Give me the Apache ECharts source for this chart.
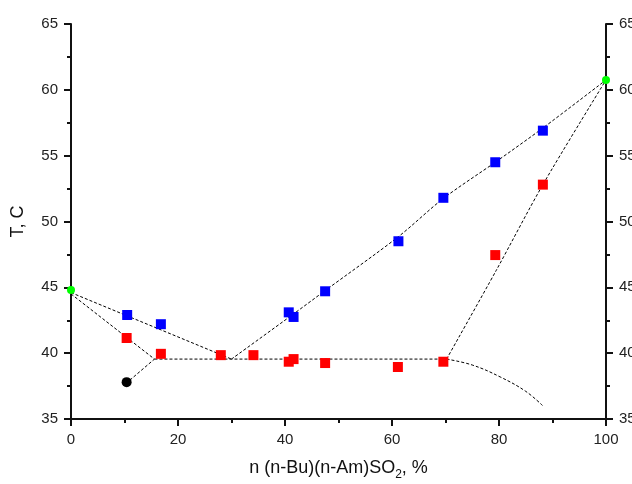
<!DOCTYPE html>
<html lang="en">
<head>
    <meta charset="UTF-8">
    <title>T - n diagram</title>
    <script src="https://cdn.jsdelivr.net/npm/echarts@6/dist/echarts.min.js"></script>
    <style>
        body{
            margin: 0;
            background: #fff;
        }
        #chart{
            width: 632px;
            height: 484px;
        }
    </style>
</head>
<body>
    <div id="chart"></div>
    <script>
        // measured points
        var bluePts = [[10.5, 42.9], [16.8, 42.2], [40.7, 43.1], [41.6, 42.75], [47.5, 44.7],
                       [61.2, 48.5], [69.6, 51.8], [79.3, 54.5], [88.2, 56.9]];
        var redPts = [[10.4, 41.15], [16.8, 39.95], [28.0, 39.85], [34.1, 39.85], [40.7, 39.35],
                      [41.6, 39.55], [47.5, 39.25], [61.1, 38.95], [69.6, 39.35], [79.3, 47.45], [88.2, 52.8]];
        var greenPts = [[0, 44.8], [100, 60.75]];
        var blackPts = [[10.4, 37.8]];

        // dashed guide lines
        var upperLeft = [[0, 44.6], [30, 39.55]];
        var lowerLeft = [[0, 44.5], [15.6, 39.55]];
        var eutectic = [[15.6, 39.55], [70.2, 39.55]];
        var blackLine = [[11, 37.95], [15.6, 39.55]];
        var upperRight = [[30, 39.55], [41.5, 42.95], [47.5, 44.75], [61.2, 48.85], [69.6, 51.75],
                          [79.3, 54.5], [88.2, 57.1], [100, 60.75]];
        var lowerRight = [[70.2, 39.55], [79.5, 46.3], [88.2, 52.8], [100, 60.75]];
        var tailCurve = [[70.2, 39.55], [75, 39.1], [80.2, 38.2], [85, 37.1], [88.2, 36.0]];

        var xTicks = [0, 20, 40, 60, 80, 100];
        var yTicks = [35, 40, 45, 50, 55, 60, 65];

        var font = 'Liberation Sans, Arial, sans-serif';

        function yAx(pos){
            return {
                type: 'value',
                position: pos,
                min: yTicks[0],
                max: yTicks[yTicks.length - 1],
                interval: 5,
                name: pos === 'left' ? 'T, C' : '',
                nameLocation: 'middle',
                nameGap: 44,
                nameTextStyle: {color: '#111', fontSize: 18, fontFamily: font},
                axisLine: {show: true, lineStyle: {color: '#111', width: 2}},
                axisTick: {show: true, length: 7, lineStyle: {color: '#111', width: 2}},
                minorTick: {show: true, splitNumber: 2, length: 4, lineStyle: {color: '#111', width: 2}},
                axisLabel: {color: '#222', fontSize: 15, fontFamily: font, margin: 13},
                splitLine: {show: false}
            };
        }

        function dashed(data){
            return {
                type: 'line',
                data: data,
                yAxisIndex: 0,
                showSymbol: false,
                symbol: 'none',
                silent: true,
                lineStyle: {color: '#000', width: 1, type: [3, 2]},
                z: 1
            };
        }

        function dots(data, color, shape, size){
            return {
                type: 'scatter',
                data: data,
                symbol: shape,
                symbolSize: size,
                itemStyle: {color: color, opacity: 1},
                z: 3
            };
        }

        var myChart = echarts.init(document.getElementById('chart'));
        var option = {
            animation: false,
            backgroundColor: '#fff',
            grid: {left: 71, right: 26, top: 24, bottom: 65, outerBoundsMode: 'none', containLabel: false},
            xAxis: {
                type: 'value',
                min: xTicks[0],
                max: xTicks[xTicks.length - 1],
                interval: 20,
                name: '{a|n (n-Bu)(n-Am)SO}{s|2}{a|, %}',
                nameLocation: 'middle',
                nameGap: 36,
                nameTextStyle: {
                    rich: {
                        a: {color: '#111', fontSize: 18, fontFamily: font, lineHeight: 22, verticalAlign: 'bottom'},
                        s: {color: '#111', fontSize: 12, fontFamily: font, lineHeight: 15, verticalAlign: 'bottom', padding: [0, 0, -4, 0]}
                    }
                },
                axisLine: {show: true, lineStyle: {color: '#111', width: 2}},
                axisTick: {show: true, length: 7, lineStyle: {color: '#111', width: 2}},
                minorTick: {show: true, splitNumber: 2, length: 4, lineStyle: {color: '#111', width: 2}},
                axisLabel: {color: '#222', fontSize: 15, fontFamily: font, margin: 13},
                splitLine: {show: false}
            },
            yAxis: [yAx('left'), yAx('right')],
            series: [
                dashed(upperLeft),
                dashed(lowerLeft),
                dashed(eutectic),
                dashed(blackLine),
                Object.assign(dashed(upperRight), {smooth: 0.3}),
                Object.assign(dashed(lowerRight), {smooth: 0.3}),
                Object.assign(dashed(tailCurve), {smooth: 0.4}),
                dots(bluePts, '#0000ff', 'rect', 10),
                dots(redPts, '#ff0000', 'rect', 10),
                dots(greenPts, '#00ff00', 'circle', 8),
                dots(blackPts, '#000000', 'circle', 10)
            ]
        };
        myChart.setOption(option);
    </script>
</body>
</html>
